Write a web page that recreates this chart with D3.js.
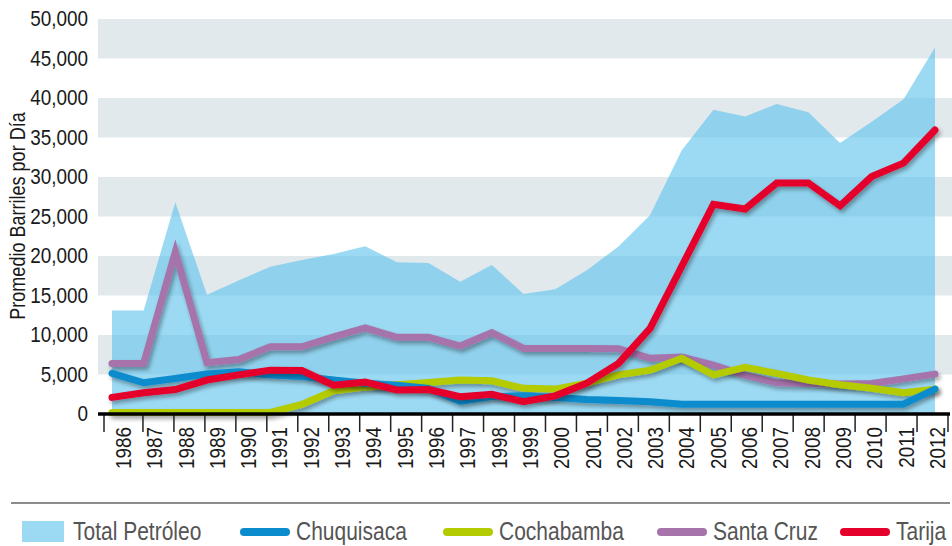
<!DOCTYPE html>
<html>
<head>
<meta charset="utf-8">
<script src="https://cdn.jsdelivr.net/npm/d3@7/dist/d3.min.js"></script>
<style>
  html, body { margin: 0; padding: 0; background: #fff; }
  svg { display: block; }
  text { font-family: "Liberation Sans", Arial, sans-serif; }
</style>
</head>
<body>
<svg id="chart" width="952" height="546"></svg>
<script>
// Producción de petróleo por departamento (promedio de barriles por día)
const years = d3.range(1986, 2013).map(String);

const totalPetroleo = [13100, 13100, 26800, 15100, 16900, 18650, 19500, 20250, 21250, 19200,
  19100, 16750, 18850, 15200, 15800, 18200, 21200, 25200, 33400, 38500,
  37650, 39250, 38200, 34300, 37000, 39800, 46400];
const chuquisaca = [5150, 3950, 4500, 5050, 5350, 4950, 4750, 4300, 3900, 3650,
  3250, 1600, 2200, 2300, 2100, 1850, 1700, 1550, 1250, 1250,
  1250, 1250, 1250, 1250, 1250, 1250, 3150];
const cochabamba = [200, 200, 200, 200, 200, 200, 1200, 2950, 3400, 3700,
  4000, 4300, 4200, 3250, 3150, 3900, 4950, 5550, 7050, 4950,
  5900, 5150, 4300, 3700, 3250, 2700, 3150];
const santaCruz = [6400, 6400, 20500, 6500, 6900, 8500, 8500, 9750, 10900, 9700,
  9700, 8600, 10300, 8300, 8300, 8300, 8250, 7050, 7200, 6200,
  4900, 3950, 3850, 3800, 3850, 4450, 5050];
const tarija = [2100, 2700, 3100, 4300, 4950, 5550, 5500, 3650, 4050, 3050,
  3100, 2200, 2500, 1550, 2300, 3900, 6400, 10850, 18700, 26550,
  25950, 29250, 29250, 26350, 30050, 31750, 35950];

const yTicks = [0, 5000, 10000, 15000, 20000, 25000, 30000, 35000, 40000, 45000, 50000];
const seriesNames = ["Chuquisaca", "Cochabamba", "Santa Cruz", "Tarija"];
const seriesColors = ["#0a8ccd", "#b4cb00", "#a673ab", "#e4002b"];
const seriesValues = [chuquisaca, cochabamba, santaCruz, tarija];
const drawOrder = [2, 1, 0, 3];
const totalName = "Total Petróleo";
const yTitle = "Promedio Barriles por Día";

const svg = d3.select("#chart");
const fmt = d3.format(",");

const y = d3.scaleLinear().domain([0, 50000]).range([414, 19]);
const x = d3.scalePoint().domain(years).range([112, 935]);
const xBand = d3.scaleBand().domain(years).range([112, 948]);
const xLabel = d3.scalePoint().domain(years).range([123, 937]);

const plotLeft = 98, plotRight = 952;

// Texto condensado: escala horizontal aplicada a la fuente
function narrowText(parent, tx, ty, rot, sx, size, anchor, fill, str, dy) {
  const g = parent.append("g")
    .attr("transform", `translate(${tx},${ty}) rotate(${rot}) scale(${sx},1)`);
  return g.append("text")
    .attr("text-anchor", anchor)
    .attr("dy", dy || 0)
    .attr("font-size", size)
    .attr("fill", fill)
    .text(str);
}

// Franjas horizontales alternas
const bands = svg.append("g");
for (let i = 0; i < yTicks.length - 1; i++) {
  if (i % 2 === 1) {
    bands.append("rect")
      .attr("x", plotLeft)
      .attr("y", y(yTicks[i + 1]))
      .attr("width", plotRight - plotLeft)
      .attr("height", y(yTicks[i]) - y(yTicks[i + 1]))
      .attr("fill", "#e1e9ed");
  }
}

// Sombra suave de las líneas
const defs = svg.append("defs");
const f = defs.append("filter").attr("id", "shadow")
  .attr("x", "-10%").attr("y", "-10%").attr("width", "130%").attr("height", "140%");
f.append("feDropShadow").attr("dx", 2).attr("dy", 3).attr("stdDeviation", 2.2)
  .attr("flood-color", "#000").attr("flood-opacity", 0.35);

// Área del total
const area = d3.area()
  .x((d, i) => x(years[i]))
  .y0(y(0))
  .y1(d => y(d));
svg.append("path")
  .datum(totalPetroleo)
  .attr("d", area)
  .attr("fill", "rgb(90,193,237)")
  .attr("fill-opacity", 0.6);

// Líneas por departamento
const line = d3.line()
  .x((d, i) => x(years[i]))
  .y(d => y(d));
const lines = svg.append("g");
drawOrder.forEach(k => {
  lines.append("path")
    .datum(seriesValues[k])
    .attr("d", line)
    .attr("fill", "none")
    .attr("stroke", seriesColors[k])
    .attr("stroke-width", 7)
    .attr("stroke-linecap", "round")
    .attr("stroke-linejoin", "miter")
    .attr("filter", "url(#shadow)");
});

// Eje Y: etiquetas
const yAxis = svg.append("g");
yTicks.forEach(t => {
  narrowText(yAxis, 88, y(t), 0, 0.86, 22, "end", "#1a1a1a", fmt(t), "0.33em");
});
narrowText(svg, 25, 216, -90, 0.82, 22, "middle", "#1a1a1a", yTitle, 0);

// Eje X
const xAxis = svg.append("g");
const tickXs = [104].concat(years.slice(1).map(yr => xBand(yr))).concat([948]);
xAxis.selectAll("line.tick")
  .data(tickXs)
  .join("line")
  .attr("class", "tick")
  .attr("x1", d => d).attr("x2", d => d)
  .attr("y1", 414).attr("y2", 432)
  .attr("stroke", "#222")
  .attr("stroke-width", 1.5);
xAxis.append("line")
  .attr("x1", plotLeft).attr("x2", 950)
  .attr("y1", y(0)).attr("y2", y(0))
  .attr("stroke", "#000")
  .attr("stroke-width", 3.5);
years.forEach(yr => {
  narrowText(xAxis, xLabel(yr), 427, -90, 0.86, 22, "end", "#1a1a1a", yr, "0.36em");
});

// Leyenda
svg.append("line")
  .attr("x1", 11).attr("x2", 950)
  .attr("y1", 503).attr("y2", 503)
  .attr("stroke", "#8c8c8c")
  .attr("stroke-width", 2);

const legend = svg.append("g");
legend.append("rect")
  .attr("x", 22).attr("y", 521).attr("width", 42).attr("height", 21)
  .attr("fill", "rgb(90,193,237)").attr("fill-opacity", 0.6);
narrowText(legend, 73, 540, 0, 0.84, 25, "start", "#555", totalName, 0);

const swatchX = [240, 443, 657, 840];
seriesNames.forEach((name, k) => {
  legend.append("line")
    .attr("x1", swatchX[k] + 4).attr("x2", swatchX[k] + 46)
    .attr("y1", 532).attr("y2", 532)
    .attr("stroke", seriesColors[k])
    .attr("stroke-width", 8)
    .attr("stroke-linecap", "round");
  narrowText(legend, swatchX[k] + 56, 540, 0, 0.84, 25, "start", "#555", name, 0);
});
</script>
</body>
</html>
